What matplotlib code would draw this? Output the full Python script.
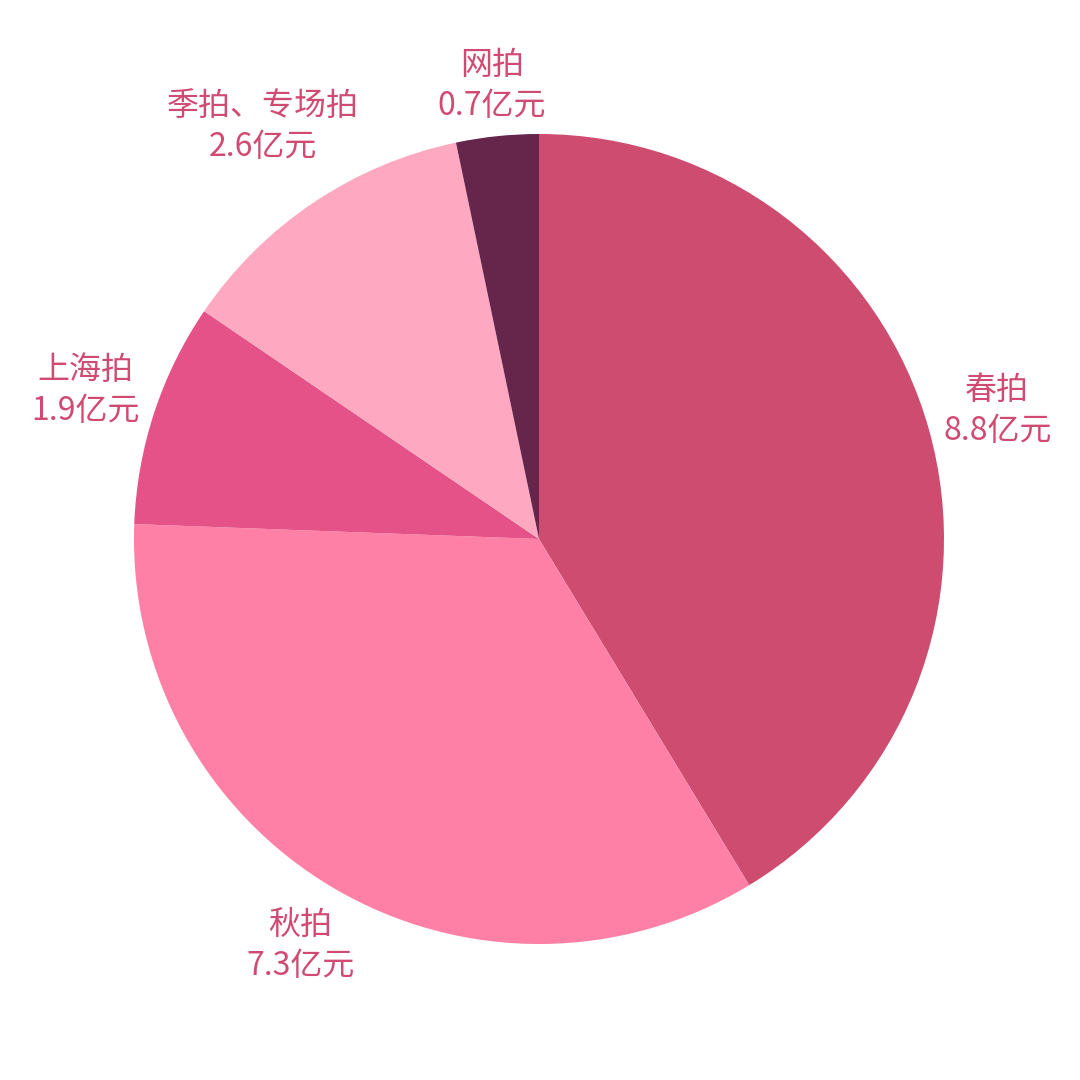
import numpy as np
import matplotlib.pyplot as plt

plt.rcParams['font.family'] = ['Noto Sans CJK SC', 'DejaVu Sans']

categories = ['春拍', '秋拍', '上海拍', '季拍、专场拍', '网拍']
values = [8.8, 7.3, 1.9, 2.6, 0.7]
colors = ['#cf4c71', '#ff80a6', '#e45287', '#ffa8c1', '#66254a']

# radial distance of each label (in pie radii)
label_dist = [1.175, 1.165, 1.178, 1.227, 1.126]

fig = plt.figure(figsize=(10.8, 10.8), dpi=100)
ax = fig.add_axes([0, 0, 1, 1])

R = 405.0
cx, cy = 539.0, 541.0  # centre, from bottom-left in pixels
wedges, _ = ax.pie(values, colors=colors, startangle=90, counterclock=False,
                   radius=1.0, wedgeprops=dict(linewidth=0))

for w, name, v, d in zip(wedges, categories, values, label_dist):
    mid = np.deg2rad((w.theta1 + w.theta2) / 2)
    x, y = d * np.cos(mid), d * np.sin(mid)
    ax.text(x, y, f'{name}\n{v}亿元', ha='center', va='center',
            fontsize=23, color='#d04a72', linespacing=1.36)

ax.set_xlim(-cx / R, (1080 - cx) / R)
ax.set_ylim(-cy / R, (1080 - cy) / R)
ax.set_aspect('equal')
ax.axis('off')

fig.savefig('out.png', dpi=100, facecolor='white')
